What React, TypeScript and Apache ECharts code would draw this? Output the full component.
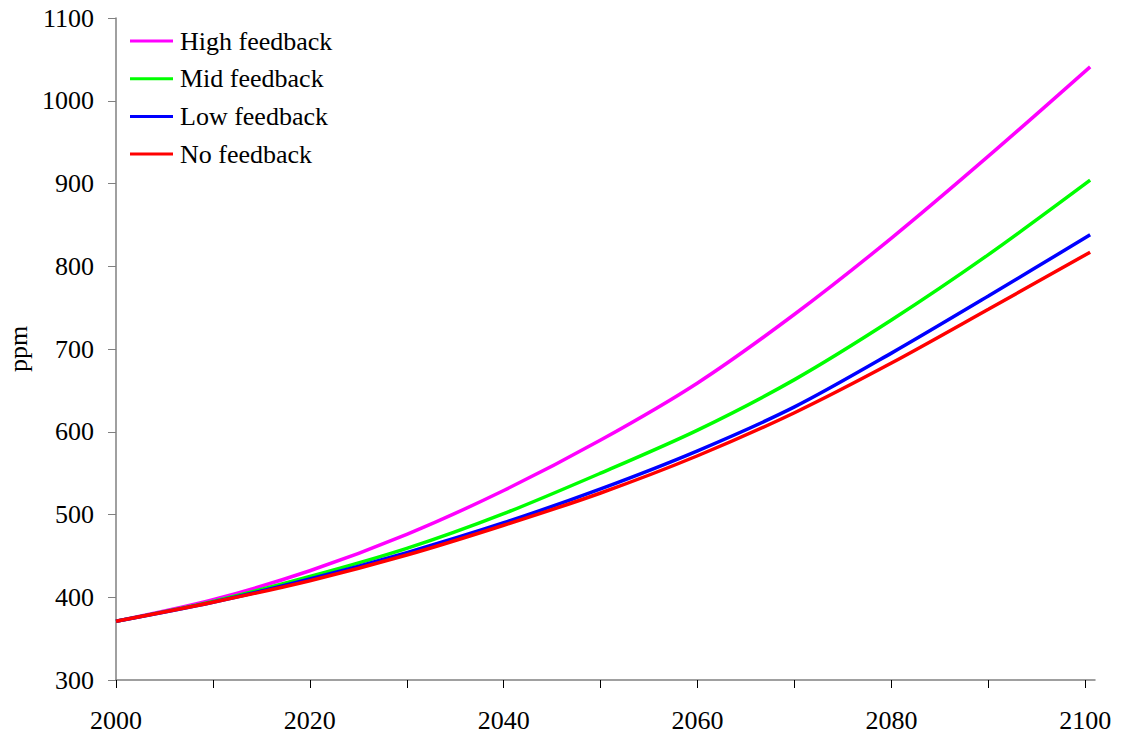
import React, { useEffect, useRef } from "react";
import * as echarts from "echarts";

const years = [2000, 2010, 2020, 2030, 2040, 2050, 2060, 2070, 2080, 2090, 2100.5];
const highFeedback = [371, 397, 432, 476, 529, 590, 659, 742, 834, 933, 1041];
const midFeedback = [371, 395, 425, 459, 501, 550, 602, 663, 735, 814, 904];
const lowFeedback = [371, 394, 422, 454, 490, 531, 577, 630, 695, 764, 838];
const noFeedback = [371, 394, 420, 451, 487, 526, 571, 623, 683, 748, 817];

const xTicks = [2000, 2010, 2020, 2030, 2040, 2050, 2060, 2070, 2080, 2090, 2100];
const xLabels = [2000, 2020, 2040, 2060, 2080, 2100];

const seriesDefs = [
  { name: "High feedback", data: highFeedback, color: "#FF00FF" },
  { name: "Mid feedback", data: midFeedback, color: "#00FF00" },
  { name: "Low feedback", data: lowFeedback, color: "#0000FF" },
  { name: "No feedback", data: noFeedback, color: "#FF0000" },
];

const FONT = "'Liberation Serif', 'Times New Roman', serif";

export default function App() {
  const ref = useRef<HTMLDivElement>(null);
  useEffect(() => {
    if (!ref.current) return;
    const chart = echarts.init(ref.current, null, { renderer: "svg" });
    chart.setOption({
      animation: false,
      backgroundColor: "#ffffff",
      textStyle: { fontFamily: FONT, color: "#000" },
      grid: {
        left: 116,
        right: 30,
        top: 18,
        bottom: 60,
        containLabel: false,
        outerBoundsMode: "none",
      },
      legend: {
        orient: "vertical",
        left: 130,
        top: 28,
        padding: 0,
        icon: "rect",
        itemWidth: 43,
        itemHeight: 3,
        itemGap: 11.7,
        textStyle: {
          fontFamily: FONT,
          fontSize: 26,
          color: "#000",
          lineHeight: 26,
          padding: [0, 0, 0, 2],
        },
        data: seriesDefs.map((s) => s.name),
      },
      xAxis: {
        type: "value",
        min: 2000,
        max: 2101,
        interval: 10,
        splitLine: { show: false },
        axisLine: { lineStyle: { color: "#808080", width: 1.5 } },
        axisTick: {
          show: true,
          length: 8,
          lineStyle: { color: "#000", width: 1 },
          customValues: xTicks,
        },
        axisLabel: {
          customValues: xLabels,
          fontFamily: FONT,
          fontSize: 26,
          color: "#000",
          margin: 27,
          formatter: (v: number) => String(v),
        },
      },
      yAxis: {
        type: "value",
        min: 300,
        max: 1100,
        interval: 100,
        name: "ppm",
        nameLocation: "middle",
        nameGap: 82,
        nameTextStyle: { fontFamily: FONT, fontSize: 26, color: "#000" },
        splitLine: { show: false },
        axisLine: { show: true, lineStyle: { color: "#808080", width: 1.5 } },
        axisTick: { show: true, length: 8, lineStyle: { color: "#808080", width: 1 } },
        axisLabel: {
          fontFamily: FONT,
          fontSize: 26,
          color: "#000",
          margin: 22,
          formatter: (v: number) => String(v),
        },
      },
      series: seriesDefs.map((s) => ({
        name: s.name,
        type: "line",
        data: years.map((y, i) => [y, s.data[i]]),
        smooth: 0.3,
        symbol: "none",
        lineStyle: { color: s.color, width: 3.5 },
        itemStyle: { color: s.color },
      })),
    });
    return () => chart.dispose();
  }, []);
  return (
    <div
      ref={ref}
      style={{ position: "fixed", left: 0, top: 0, width: 1125, height: 740 }}
    />
  );
}
